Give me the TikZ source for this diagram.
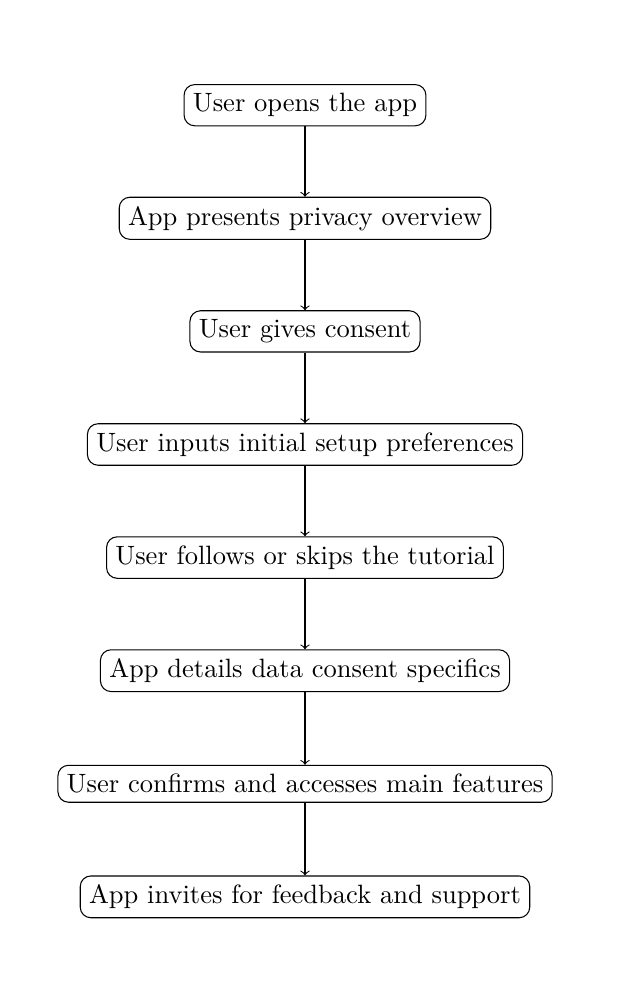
\documentclass[tikz,border=0pt]{standalone}
\usetikzlibrary{positioning}

\begin{document}
\begin{tikzpicture}[node distance=1.5cm,on grid,
  stepbox/.style={draw,rounded corners,align=center},
  flow/.style={->}]
  \useasboundingbox (-115.1pt,39.7pt) rectangle (118.9pt,-340.7pt);
  \node[stepbox] (open) at (0,0) {User opens the app};
  \node[stepbox,below=of open] (privacy) {App presents privacy overview};
  \node[stepbox,below=of privacy] (consent) {User gives consent};
  \node[stepbox,below=of consent] (setup) {User inputs initial setup preferences};
  \node[stepbox,below=of setup] (tutorial) {User follows or skips the tutorial};
  \node[stepbox,below=of tutorial] (details) {App details data consent specifics};
  \node[stepbox,below=of details] (main) {User confirms and accesses main features};
  \node[stepbox,below=of main] (feedback) {App invites for feedback and support};

  \draw[flow] (open) -- (privacy);
  \draw[flow] (privacy) -- (consent);
  \draw[flow] (consent) -- (setup);
  \draw[flow] (setup) -- (tutorial);
  \draw[flow] (tutorial) -- (details);
  \draw[flow] (details) -- (main);
  \draw[flow] (main) -- (feedback);
\end{tikzpicture}
\end{document}
